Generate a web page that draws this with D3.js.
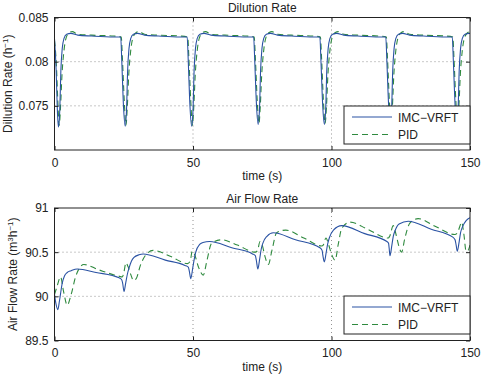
<!DOCTYPE html>
<html>
<head>
<meta charset="utf-8">
<script src="https://cdn.jsdelivr.net/npm/d3@7"></script>
<style>
body { margin: 0; background: #fff; }
text { font-family: "Liberation Sans", Arial, sans-serif; fill: #222; }
</style>
</head>
<body>
<script>
// time axis
var xTicks = [0, 50, 100, 150];

// Dilution rate panel
var dilTicks = [0.075, 0.08, 0.085];
var dilTickLabels = ["0.075", "0.08", "0.085"];
var dilImc = [
  [0,0.0826],[0.6,0.0790],[1.0,0.0748],[1.4,0.0726],[1.9,0.0745],[2.3,0.0790],[2.8,0.0815],[3.4,0.0826],[4.4,0.0831],[5.9,0.0832],[8.4,0.0830],[13.4,0.0829],[21.4,0.0828],
  [23.9,0.0828],[24.3,0.0800],[24.9,0.0750],[25.5,0.0727],[26.0,0.0745],[26.4,0.0790],[26.9,0.0815],[27.5,0.0826],[28.5,0.0831],[30.0,0.0832],[32.5,0.0830],[37.5,0.0829],[45.5,0.0828],
  [47.9,0.0828],[48.3,0.0800],[48.9,0.0750],[49.5,0.0727],[50.0,0.0745],[50.4,0.0790],[50.9,0.0815],[51.5,0.0826],[52.5,0.0831],[54.0,0.0832],[56.5,0.0830],[61.5,0.0829],[69.5,0.0828],
  [71.9,0.0828],[72.3,0.0800],[72.9,0.0752],[73.5,0.0729],[74.0,0.0746],[74.4,0.0790],[74.9,0.0815],[75.5,0.0826],[76.5,0.0831],[78.0,0.0832],[80.5,0.0830],[85.5,0.0829],[93.5,0.0828],
  [95.8,0.0828],[96.2,0.0800],[96.8,0.0752],[97.4,0.0729],[97.9,0.0746],[98.3,0.0790],[98.8,0.0815],[99.4,0.0826],[100.4,0.0831],[101.9,0.0832],[104.4,0.0830],[109.4,0.0829],[117.4,0.0828],
  [119.6,0.0828],[120.0,0.0800],[120.6,0.0752],[121.2,0.0729],[121.7,0.0746],[122.1,0.0790],[122.6,0.0815],[123.2,0.0826],[124.2,0.0831],[125.7,0.0832],[128.2,0.0830],[133.2,0.0829],[141.2,0.0828],
  [143.6,0.0828],[144.0,0.0800],[144.6,0.0752],[145.2,0.0729],[145.7,0.0746],[146.1,0.0790],[146.6,0.0815],[147.2,0.0826],[148.2,0.0831],[149.7,0.0832],[150,0.0832]
];
var dilPid = [
  [0,0.0824],[0.7,0.0795],[1.2,0.0755],[1.7,0.0728],[2.2,0.0750],[2.7,0.0785],[3.4,0.0812],[4.2,0.0827],[5.4,0.0833],[6.4,0.0834],[8.4,0.0831],[13.4,0.0830],[21.4,0.0829],
  [24.1,0.0828],[24.5,0.0805],[25.2,0.0755],[25.8,0.0728],[26.3,0.0750],[26.8,0.0785],[27.5,0.0812],[28.3,0.0827],[29.5,0.0833],[30.5,0.0834],[32.5,0.0831],[37.5,0.0830],[45.5,0.0829],
  [48.1,0.0828],[48.5,0.0805],[49.2,0.0755],[49.8,0.0728],[50.3,0.0750],[50.8,0.0785],[51.5,0.0812],[52.3,0.0827],[53.5,0.0833],[54.5,0.0834],[56.5,0.0831],[61.5,0.0830],[69.5,0.0829],
  [72.1,0.0828],[72.5,0.0805],[73.2,0.0755],[73.8,0.0730],[74.3,0.0750],[74.8,0.0785],[75.5,0.0812],[76.3,0.0827],[77.5,0.0833],[78.5,0.0834],[80.5,0.0831],[85.5,0.0830],[93.5,0.0829],
  [96.0,0.0828],[96.4,0.0805],[97.1,0.0755],[97.7,0.0730],[98.2,0.0750],[98.7,0.0785],[99.4,0.0812],[100.2,0.0827],[101.4,0.0833],[102.4,0.0834],[104.4,0.0831],[109.4,0.0830],[117.4,0.0829],
  [119.8,0.0828],[120.2,0.0805],[120.9,0.0755],[121.5,0.0730],[122.0,0.0750],[122.5,0.0785],[123.2,0.0812],[124.0,0.0827],[125.2,0.0833],[126.2,0.0834],[128.2,0.0831],[133.2,0.0830],[141.2,0.0829],
  [143.8,0.0828],[144.2,0.0805],[144.9,0.0755],[145.5,0.0730],[146.0,0.0750],[146.5,0.0785],[147.2,0.0812],[148.0,0.0827],[149.2,0.0833],[150,0.0834]
];

// Air flow rate panel
var airTicks = [89.5, 90, 90.5, 91];
var airTickLabels = ["89.5", "90", "90.5", "91"];
var airImc = [
  [0,90.02],[0.5,89.92],[1.2,89.85],[1.8,89.95],[2.8,90.15],[3.6,90.23],[4.6,90.27],[6.0,90.29],[8.2,90.31],[15,90.27],[23.3,90.21],[24.2,90.19],
  [24.6,90.15],[25.1,90.055],[25.7,90.15],[26.3,90.25],[26.9,90.32],[27.8,90.40],[28.7,90.44],[30.5,90.47],[32,90.48],[40,90.41],[47.1,90.35],[48.3,90.33],
  [48.7,90.28],[49.2,90.20],[49.9,90.32],[50.5,90.43],[51.0,90.50],[52.5,90.59],[53.6,90.61],[56,90.62],[64,90.55],[71.5,90.48],[72.5,90.46],
  [72.9,90.40],[73.4,90.31],[74.1,90.43],[74.6,90.53],[75.2,90.60],[76.7,90.68],[79,90.72],[87,90.64],[95.8,90.55],[96.6,90.52],
  [96.9,90.46],[97.4,90.39],[98.1,90.50],[98.6,90.59],[99.2,90.66],[100.7,90.75],[103.7,90.80],[112,90.71],[120,90.62],[120.6,90.60],
  [120.8,90.55],[121.1,90.46],[121.8,90.58],[122.3,90.68],[122.9,90.74],[124.4,90.82],[127.7,90.85],[136,90.76],[143.8,90.67],[144.6,90.64],
  [145.0,90.58],[145.4,90.51],[146.1,90.62],[146.6,90.72],[147.2,90.78],[148.7,90.86],[150,90.89]
];
var airPid = [
  [0,90.02],[1.0,90.12],[2.2,90.22],[3.3,90.05],[4.6,89.90],[6.0,90.02],[7.6,90.22],[9,90.32],[10.6,90.36],[16,90.30],[23,90.23],[24.5,90.22],
  [25.1,90.28],[25.8,90.38],[26.5,90.34],[27.5,90.25],[28.5,90.18],[29.5,90.20],[31,90.35],[33,90.47],[35.6,90.52],[42,90.45],[48,90.37],
  [49.0,90.40],[49.7,90.51],[50.5,90.48],[52,90.33],[53.7,90.24],[55,90.40],[56.7,90.60],[60.3,90.64],[66,90.58],[72.5,90.50],
  [73.3,90.52],[74.2,90.62],[75,90.58],[76,90.45],[77.2,90.36],[78.5,90.52],[80.2,90.72],[83.5,90.75],[90,90.66],[96.5,90.57],
  [97.0,90.58],[98,90.66],[99,90.58],[100,90.48],[101.3,90.41],[102.5,90.60],[103.7,90.77],[106.7,90.84],[113,90.76],[120.5,90.66],
  [121.0,90.68],[122.3,90.80],[123.3,90.70],[124.3,90.57],[125.3,90.50],[126.5,90.66],[128.3,90.83],[131.3,90.88],[137,90.80],[144.5,90.70],
  [145.5,90.72],[146.4,90.80],[147,90.84],[147.8,90.70],[148.6,90.51],[149.3,90.52],[150,90.58]
];

var seriesNames = ["IMC\u2212VRFT", "PID"];
var colImc = "#2a52a3";
var colPid = "#2f8a3f";

var W = 484, H = 374;
var left = 54.5, right = 470;

var svg = d3.select("body").append("svg")
    .attr("width", W)
    .attr("height", H);

var x = d3.scaleLinear().domain([0, 150]).range([left, right]);

function drawPanel(p) {
    var y = d3.scaleLinear().domain(p.domain).range([p.bottom, p.top]);
    var g = svg.append("g");

    // grid
    g.selectAll(".gx").data(xTicks.slice(1, -1)).enter().append("line")
        .attr("x1", function(d) { return x(d); })
        .attr("x2", function(d) { return x(d); })
        .attr("y1", p.top).attr("y2", p.bottom)
        .attr("stroke", "#777").attr("stroke-width", 0.8)
        .attr("stroke-dasharray", "1,3");
    g.selectAll(".gy").data(p.ticks.slice(0, -1).filter(function(d) { return d > p.domain[0]; })).enter().append("line")
        .attr("x1", left).attr("x2", right)
        .attr("y1", function(d) { return y(d); })
        .attr("y2", function(d) { return y(d); })
        .attr("stroke", "#777").attr("stroke-width", 0.8)
        .attr("stroke-dasharray", "1,3");

    var line = d3.line()
        .x(function(d) { return x(d[0]); })
        .y(function(d) { return y(d[1]); })
        .curve(d3.curveMonotoneX);

    var clipId = "clip" + p.id;
    svg.append("clipPath").attr("id", clipId).append("rect")
        .attr("x", left).attr("y", p.top).attr("width", right - left).attr("height", p.bottom - p.top);

    g.append("path").datum(p.pid)
        .attr("clip-path", "url(#" + clipId + ")")
        .attr("fill", "none").attr("stroke", colPid).attr("stroke-width", 1.1)
        .attr("stroke-dasharray", "6,4")
        .attr("d", line);
    g.append("path").datum(p.imc)
        .attr("clip-path", "url(#" + clipId + ")")
        .attr("fill", "none").attr("stroke", colImc).attr("stroke-width", 1.1)
        .attr("d", line);

    // axes with inward ticks
    var xb = d3.axisBottom(x).tickValues(xTicks).tickSizeInner(-4).tickSizeOuter(0).tickPadding(8);
    var xt = d3.axisTop(x).tickValues(xTicks).tickSizeInner(-4).tickSizeOuter(0).tickFormat("");
    var yl = d3.axisLeft(y).tickValues(p.ticks).tickSizeInner(-4).tickSizeOuter(0).tickPadding(6)
        .tickFormat(function(d, i) { return p.labels[i]; });
    var yr = d3.axisRight(y).tickValues(p.ticks).tickSizeInner(-4).tickSizeOuter(0).tickFormat("");

    [g.append("g").attr("transform", "translate(0," + p.bottom + ")").call(xb),
     g.append("g").attr("transform", "translate(0," + p.top + ")").call(xt),
     g.append("g").attr("transform", "translate(" + left + ",0)").call(yl),
     g.append("g").attr("transform", "translate(" + right + ",0)").call(yr)].forEach(function(a) {
        a.select(".domain").remove();
        a.selectAll("line").attr("stroke", "#222");
        a.selectAll("text").attr("font-size", 12).attr("fill", "#222")
            .attr("font-family", "Liberation Sans, Arial, sans-serif");
    });

    g.append("rect")
        .attr("x", left).attr("y", p.top)
        .attr("width", right - left).attr("height", p.bottom - p.top)
        .attr("fill", "none").attr("stroke", "#222").attr("stroke-width", 1);

    g.append("text").attr("x", (left + right) / 2).attr("y", p.top - 5.5)
        .attr("text-anchor", "middle").attr("font-size", 12).text(p.title);
    g.append("text").attr("x", (left + right) / 2).attr("y", p.bottom + 30)
        .attr("text-anchor", "middle").attr("font-size", 12).text("time (s)");

    var yt = g.append("text")
        .attr("transform", "translate(" + p.ylabX + "," + ((p.top + p.bottom) / 2) + ") rotate(-90)")
        .attr("text-anchor", "middle").attr("font-size", 12);
    p.ylab.forEach(function(s) {
        var t = yt.append("tspan").text(s[0]);
        if (s[1]) t.attr("font-size", 8).attr("baseline-shift", "super");
    });

    // legend
    var lg = g.append("g");
    lg.append("rect")
        .attr("x", 344).attr("y", p.legTop)
        .attr("width", right - 344).attr("height", 38)
        .attr("fill", "#fff").attr("stroke", "#222").attr("stroke-width", 1);
    [colImc, colPid].forEach(function(c, i) {
        var yy = p.legTop + 11 + i * 17.5;
        lg.append("line").attr("x1", 352).attr("x2", 392)
            .attr("y1", yy).attr("y2", yy)
            .attr("stroke", c).attr("stroke-width", 1.1)
            .attr("stroke-dasharray", i ? "6,4" : null);
        lg.append("text").attr("x", 398).attr("y", yy + 4.5)
            .attr("font-size", 12).text(seriesNames[i]);
    });
}

drawPanel({
    id: 1, top: 17.5, bottom: 150, domain: [0.07, 0.085],
    ticks: dilTicks, labels: dilTickLabels,
    imc: dilImc, pid: dilPid,
    title: "Dilution Rate", ylabX: 12,
    ylab: [["Dillution Rate (h"], ["\u22121", true], [")"]],
    legTop: 106
});

drawPanel({
    id: 2, top: 208, bottom: 340.5, domain: [89.5, 91],
    ticks: airTicks, labels: airTickLabels,
    imc: airImc, pid: airPid,
    title: "Air Flow Rate", ylabX: 17,
    ylab: [["Air Flow Rate (m"], ["3", true], ["h"], ["\u22121", true], [")"]],
    legTop: 296
});
</script>
</body>
</html>
